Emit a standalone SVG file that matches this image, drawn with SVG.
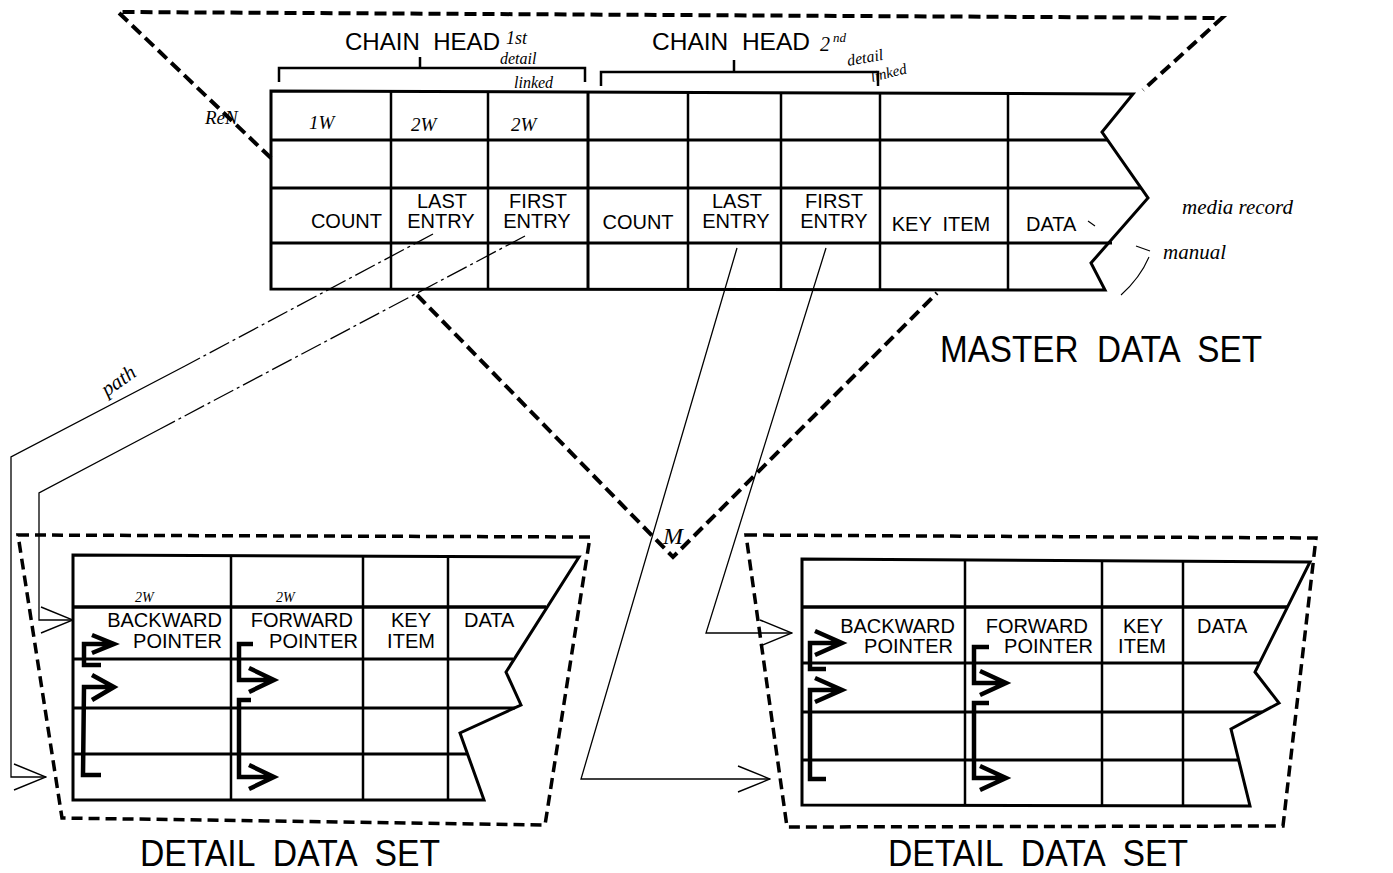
<svg xmlns="http://www.w3.org/2000/svg" width="1393" height="873" viewBox="0 0 1393 873">
<style>
.bg{fill:#fff}
.tbl{fill:none;stroke:#000;stroke-width:3;stroke-linejoin:miter}
.col{stroke:#000;stroke-width:2.5}
.dash{fill:none;stroke:#000;stroke-width:4;stroke-dasharray:12 6}
.ddash{fill:none;stroke:#000;stroke-width:3.5;stroke-dasharray:11 6}
.lbl{font-family:"Liberation Sans",Arial,sans-serif;font-size:20px;fill:#000;white-space:pre}
.big{font-family:"Liberation Sans",Arial,sans-serif;font-size:36px;fill:#000;white-space:pre}
.head{font-family:"Liberation Sans",Arial,sans-serif;font-size:24px;fill:#000;white-space:pre}
.hand{font-family:"Liberation Serif","DejaVu Serif",serif;font-style:italic;fill:#000}
.ptr{fill:none;stroke:#000;stroke-width:4.5;stroke-linejoin:miter;stroke-linecap:butt}
.conn{fill:none;stroke:#000;stroke-width:1.3}
.dd{stroke-dasharray:22 4 3 4}
.thin{fill:none;stroke:#000;stroke-width:1.1}
.c{text-anchor:middle}
.e{text-anchor:end}
</style>
<defs>
<marker id="open" markerUnits="userSpaceOnUse" markerWidth="34" markerHeight="28" viewBox="0 0 34 28" refX="33" refY="14" orient="auto">
<path d="M1,1 L33,14 L1,27" fill="none" stroke="#000" stroke-width="1.4"/>
</marker>
</defs>
<rect class="bg" x="0" y="0" width="1393" height="873"/>

<g id="master-set">
<path class="dash" d="M271,158 L118,12 L1222,18 L1143,90"/>
<path class="dash" d="M417,295 L673,557 L937,293"/>
<path class="tbl" d="M1133,94 L271,91 L271,289 L1105,290 L1091,263 L1148,198 L1102,132 Z"/>
<line class="col" x1="271" y1="140" x2="1108" y2="140" style="stroke-width:3"/>
<line class="col" x1="271" y1="188" x2="1141" y2="188" style="stroke-width:3"/>
<line class="col" x1="271" y1="243" x2="1112" y2="243" style="stroke-width:3"/>
<line class="col" x1="391" y1="91" x2="391" y2="289"/>
<line class="col" x1="488" y1="91" x2="488" y2="289"/>
<line class="col" x1="588" y1="91" x2="588" y2="289" style="stroke-width:3"/>
<line class="col" x1="688" y1="92" x2="688" y2="289"/>
<line class="col" x1="781" y1="92" x2="781" y2="289"/>
<line class="col" x1="880" y1="93" x2="880" y2="290"/>
<line class="col" x1="1008" y1="93" x2="1008" y2="290"/>
<path class="tbl" d="M279,82 L279,68 L585,68 L585,82 M420,68 L420,57" style="stroke-width:2.5"/>
<path class="tbl" d="M601,86 L601,72 L878,72 L878,86 M734,72 L734,60" style="stroke-width:2.5"/>
<text class="head" x="345" y="50" textLength="155" lengthAdjust="spacingAndGlyphs">CHAIN  HEAD</text>
<text class="head" x="652" y="50" textLength="158" lengthAdjust="spacingAndGlyphs">CHAIN  HEAD</text>
<text class="lbl e" x="382" y="228">COUNT</text>
<text class="lbl c" x="442" y="208">LAST</text>
<text class="lbl c" x="441" y="228">ENTRY</text>
<text class="lbl c" x="538" y="208">FIRST</text>
<text class="lbl c" x="537" y="228">ENTRY</text>
<text class="lbl c" x="638" y="229">COUNT</text>
<text class="lbl c" x="737" y="208">LAST</text>
<text class="lbl c" x="736" y="228">ENTRY</text>
<text class="lbl c" x="834" y="208">FIRST</text>
<text class="lbl c" x="834" y="228">ENTRY</text>
<text class="lbl c" x="941" y="231">KEY  ITEM</text>
<text class="lbl" x="1026" y="231">DATA</text>
<text class="hand" x="309" y="129" font-size="19">1W</text>
<text class="hand" x="411" y="131" font-size="19">2W</text>
<text class="hand" x="511" y="131" font-size="19">2W</text>
<text class="big" x="940" y="362" textLength="322" lengthAdjust="spacingAndGlyphs">MASTER  DATA  SET</text>
</g>

<g id="detail-set-left">
<path class="ddash" d="M18,535 L590,537 L545,825 L62,818 Z"/>
<path class="tbl" d="M579,557 L73,555 L73,800 L484,800 L460,733 L521,705 L506,672 Z"/>
<line class="col" x1="73" y1="607" x2="546" y2="607" style="stroke-width:3.5"/>
<line class="col" x1="73" y1="659" x2="513" y2="659" style="stroke-width:3"/>
<line class="col" x1="73" y1="708" x2="515" y2="708" style="stroke-width:3"/>
<line class="col" x1="73" y1="754" x2="467" y2="754" style="stroke-width:3"/>
<line class="col" x1="231" y1="555" x2="231" y2="800"/>
<line class="col" x1="363" y1="556" x2="363" y2="800"/>
<line class="col" x1="448" y1="556" x2="448" y2="800"/>
<text class="lbl e" x="222" y="627">BACKWARD</text>
<text class="lbl e" x="222" y="648">POINTER</text>
<text class="lbl e" x="353" y="627">FORWARD</text>
<text class="lbl e" x="358" y="648">POINTER</text>
<text class="lbl c" x="411" y="627">KEY</text>
<text class="lbl c" x="411" y="648">ITEM</text>
<text class="lbl" x="464" y="627">DATA</text>
<text class="hand" x="135" y="602" font-size="14">2W</text>
<text class="hand" x="276" y="602" font-size="14">2W</text>
<path class="ptr" d="M101,665 L84,665 L84,644 L112,644 M92,635 L114,644 L92,653"/>
<path class="ptr" d="M101,775 L83,775 L84,687 L112,687 M92,675 L114,687 L92,700"/>
<path class="ptr" d="M253,644 L239,644 L239,680 L272,680 M249,668 L274,680 L249,692"/>
<path class="ptr" d="M251,700 L239,700 L239,777 L272,777 M249,765 L274,777 L249,789"/>
<text class="big" x="140" y="866" textLength="300" lengthAdjust="spacingAndGlyphs">DETAIL  DATA  SET</text>
</g>

<g id="detail-set-right">
<path class="ddash" d="M746,535 L1316,538 L1283,826 L787,827 Z"/>
<path class="tbl" d="M1310,562 L802,559 L802,805 L1250,806 L1231,729 L1279,703 L1255,672 Z"/>
<line class="col" x1="802" y1="607" x2="1287" y2="607" style="stroke-width:3.5"/>
<line class="col" x1="802" y1="663" x2="1259" y2="663" style="stroke-width:3"/>
<line class="col" x1="802" y1="712" x2="1262" y2="712" style="stroke-width:3"/>
<line class="col" x1="802" y1="760" x2="1238" y2="760" style="stroke-width:3"/>
<line class="col" x1="965" y1="560" x2="965" y2="805"/>
<line class="col" x1="1102" y1="560" x2="1102" y2="805"/>
<line class="col" x1="1183" y1="561" x2="1183" y2="806"/>
<text class="lbl e" x="955" y="633">BACKWARD</text>
<text class="lbl e" x="953" y="653">POINTER</text>
<text class="lbl e" x="1088" y="633">FORWARD</text>
<text class="lbl e" x="1093" y="653">POINTER</text>
<text class="lbl c" x="1143" y="633">KEY</text>
<text class="lbl c" x="1142" y="653">ITEM</text>
<text class="lbl" x="1197" y="633">DATA</text>
<path class="ptr" d="M826,669 L810,669 L810,643 L840,643 M815,631 L842,643 L815,655"/>
<path class="ptr" d="M826,779 L810,779 L810,690 L840,690 M815,678 L842,690 L815,702"/>
<path class="ptr" d="M989,647 L974,647 L974,683 L1004,683 M980,671 L1006,683 L980,695"/>
<path class="ptr" d="M989,703 L974,703 L974,778 L1004,778 M980,766 L1006,778 L980,790"/>
<text class="big" x="888" y="866" textLength="300" lengthAdjust="spacingAndGlyphs">DETAIL  DATA  SET</text>
</g>

<g id="connectors">
<path class="conn dd" d="M433,234 L185,366"/>
<path class="conn" d="M185,366 L11,457 L11,777 L46,777" marker-end="url(#open)"/>
<path class="conn dd" d="M525,236 L160,429"/>
<path class="conn" d="M160,429 L39,493 L39,620 L73,620" marker-end="url(#open)"/>
<path class="conn" d="M737,248 L581,779 L770,779" marker-end="url(#open)"/>
<path class="conn" d="M826,248 L706,633 L792,633" marker-end="url(#open)"/>
</g>

<g id="annotations">
<text class="hand" x="506" y="44" font-size="18">1st</text>
<text class="hand" x="500" y="64" font-size="16">detail</text>
<text class="hand" x="514" y="88" font-size="16">linked</text>
<text class="hand" x="820" y="51" font-size="20">2</text>
<text class="hand" x="833" y="42" font-size="13">nd</text>
<text class="hand" x="848" y="66" font-size="16" transform="rotate(-10 848 66)">detail</text>
<text class="hand" x="872" y="82" font-size="15" transform="rotate(-14 872 82)">linked</text>
<text class="hand" x="205" y="124" font-size="19">ReN</text>
<text class="hand" x="107" y="397" font-size="21" transform="rotate(-35 107 397)">path</text>
<text class="hand" x="663" y="544" font-size="24">M</text>
<text class="hand" x="1182" y="214" font-size="21">media record</text>
<text class="hand" x="1163" y="259" font-size="21">manual</text>
<path class="thin" d="M1088,221 L1095,226"/>
<path class="thin" d="M1136,246 L1150,251"/>
<path class="thin" d="M1149,257 Q1140,278 1121,295"/>
</g>
</svg>
